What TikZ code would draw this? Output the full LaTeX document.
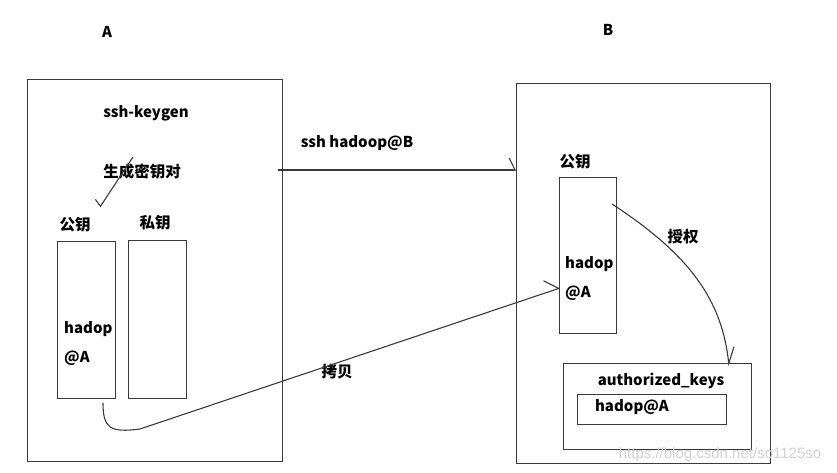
\documentclass[tikz,border=0pt]{standalone}
\usepackage{fontspec}
\setmainfont{Noto Sans CJK SC}
\newfontfamily\cjk{Noto Sans CJK SC}
\newfontfamily\wm{Liberation Sans}
\usetikzlibrary{arrows.meta}
\definecolor{linec}{HTML}{3A3A3A}
\begin{document}
\begin{tikzpicture}[x=1pt,y=-1pt,
  box/.style={draw=linec,line width=1.3pt,inner sep=0pt,anchor=north west},
  lbl/.style={inner sep=0pt,font=\bfseries\fontsize{15}{16}\selectfont},
  zh/.style={inner sep=0pt,font=\cjk\bfseries\fontsize{15.5}{16}\selectfont},
  conn/.style={draw=linec,line width=1.1pt}]
\useasboundingbox (0,0) rectangle (837,473);
% boxes
\node[box,minimum width=255pt,minimum height=382pt] (boxA) at (27,79) {};
\node[box,minimum width=254pt,minimum height=380pt] (boxB) at (516,83) {};
\node[box,minimum width=58pt,minimum height=157pt] (pubA) at (57,241) {};
\node[box,minimum width=58pt,minimum height=158pt] (privA) at (128,240) {};
\node[box,minimum width=57pt,minimum height=156pt] (pubB) at (559,177) {};
\node[box,minimum width=188pt,minimum height=86pt] (auth) at (563,363) {};
\node[box,minimum width=149pt,minimum height=30pt] (inner) at (577,394) {};
% labels
\node[lbl] (lA) at (107,32) {A};
\node[lbl] (lB) at (608,30) {B};
\node[lbl] (keygen) at (146,113) {ssh-keygen};
\node[zh] (gen) at (142,172) {生成密钥对};
\node[zh] (pubAl) at (75,225) {公钥};
\node[zh] (privAl) at (155,223) {私钥};
\node[lbl,anchor=west] (hA1) at (64,329) {hadop};
\node[lbl,anchor=west] (hA2) at (64,358) {@A};
\node[lbl] (sshl) at (357,143) {ssh hadoop@B};
\node[zh] (pubBl) at (575,162) {公钥};
\node[lbl,anchor=west] (hB1) at (565,264) {hadop};
\node[lbl,anchor=west] (hB2) at (565,293) {@A};
\node[zh] (grant) at (683,237) {授权};
\node[lbl] (authl) at (661,381) {authorized\_keys};
\node[lbl] (innerl) at (632,407) {hadop@A};
\node[zh] (copyl) at (337,372) {拷贝};
\node[inner sep=0pt,text=black!18,font=\wm\fontsize{15}{16}\selectfont] (wmk) at (720,455) {https://blog.csdn.net/so1125so};
% connectors
\coordinate (ck1) at (133,157);
\coordinate (ck2) at (100,207);
\draw[conn,-{Straight Barb[harpoon,swap,length=3pt,width=16pt]}] (ck1) -- (ck2);
\coordinate (ssh1) at (278,170);
\draw[conn,-{Straight Barb[harpoon,length=6pt,width=24pt]}] (ssh1) -- (boxB.west |- ssh1);
\coordinate (cp1) at (103,403);
\coordinate (cp2) at (140,429);
\coordinate (cp3) at (560,288);
\draw[conn,-{Straight Barb[harpoon,length=12pt,width=24pt]}] (cp1) .. controls (103,428) and (110,433) .. (cp2) -- (cp3);
\coordinate (gr1) at (612,204);
\coordinate (gr2) at (729,366);
\draw[conn,-{Straight Barb[harpoon,length=16pt,width=14pt]}] (gr1) .. controls (690,255) and (722,300) .. (gr2);
\end{tikzpicture}
\end{document}
